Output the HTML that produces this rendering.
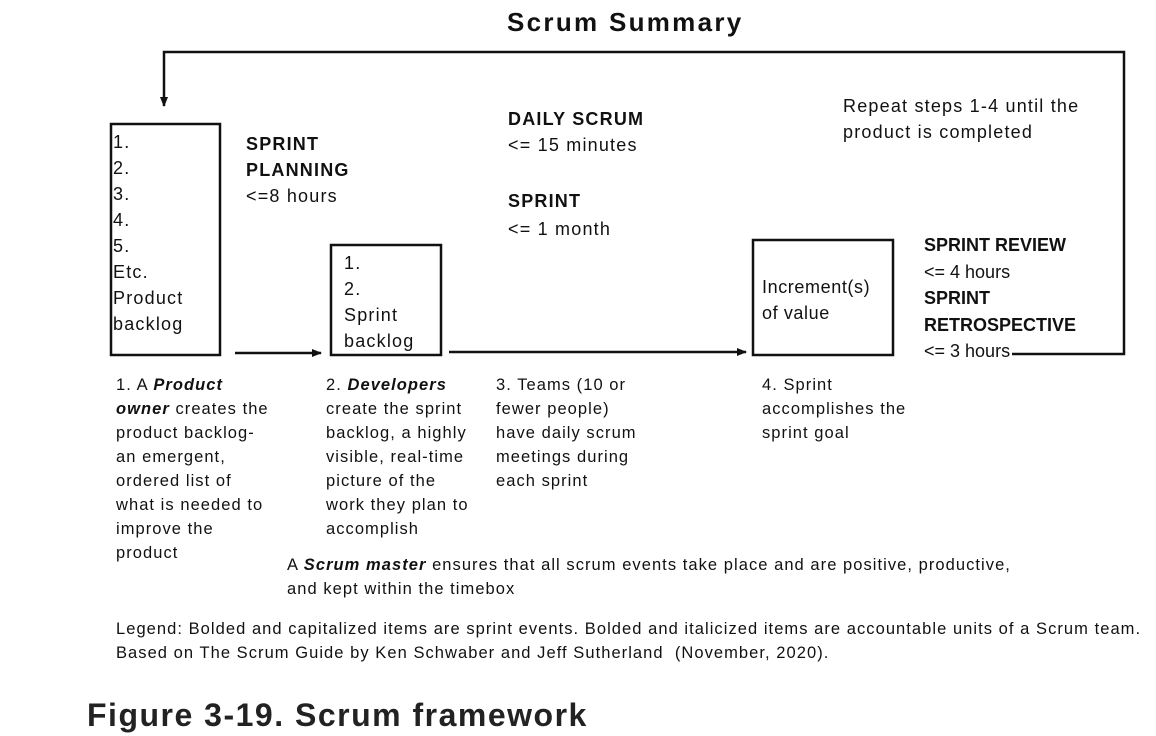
<!DOCTYPE html>
<html><head><meta charset="utf-8"><style>
body{margin:0;width:1156px;height:736px;background:#fff;position:relative;overflow:hidden;font-family:"Liberation Sans",sans-serif;color:#111}
.t{position:absolute;white-space:nowrap;font-size:18px;line-height:26px;letter-spacing:1.2px}
.s{position:absolute;white-space:nowrap;font-size:16.5px;line-height:24px;letter-spacing:1.05px}
b{font-weight:bold}
</style></head><body>
<svg width="1156" height="736" style="position:absolute;left:0;top:0">
<defs><marker id="a" markerWidth="10" markerHeight="10" refX="9" refY="5" orient="auto" markerUnits="userSpaceOnUse"><path d="M0,1 L10,5 L0,9z" fill="#111"/></marker></defs>
<g stroke="#111" stroke-width="2.5" fill="none">
<rect x="111" y="124" width="109" height="231"/>
<rect x="331" y="245" width="110" height="110"/>
<rect x="753" y="240" width="140" height="115"/>
<polyline points="1012,354 1124,354 1124,52 164,52 164,106" marker-end="url(#a)"/>
<line x1="235" y1="353" x2="321" y2="353" marker-end="url(#a)"/>
<line x1="449" y1="352" x2="746" y2="352" marker-end="url(#a)"/>
</g></svg>
<div class="t" style="left:507px;top:6px;font-size:26px;font-weight:bold;line-height:32px;letter-spacing:2.3px">Scrum Summary</div>
<div class="t" style="left:113px;top:129px">1.<br>2.<br>3.<br>4.<br>5.<br>Etc.<br>Product<br>backlog</div>
<div class="t" style="left:246px;top:131px"><b>SPRINT<br>PLANNING</b><br>&lt;=8 hours</div>
<div class="t" style="left:508px;top:106px"><b>DAILY SCRUM</b><br>&lt;= 15 minutes</div>
<div class="t" style="left:508px;top:187px;line-height:28px"><b>SPRINT</b><br>&lt;= 1 month</div>
<div class="t" style="left:843px;top:93px">Repeat steps 1-4 until the<br>product is completed</div>
<div class="t" style="left:344px;top:250px">1.<br>2.<br>Sprint<br>backlog</div>
<div class="t" style="left:762px;top:274px;letter-spacing:0.6px">Increment(s)<br>of value</div>
<div class="t" style="left:924px;top:232px;line-height:26.5px;letter-spacing:0px"><b>SPRINT REVIEW</b><br>&lt;= 4 hours<br><b>SPRINT<br>RETROSPECTIVE</b><br>&lt;= 3 hours</div>
<div class="s" style="left:116px;top:373px">1. A <b><i>Product</i></b><br><b><i>owner</i></b> creates the<br>product backlog-<br>an emergent,<br>ordered list of<br>what is needed to<br>improve the<br>product</div>
<div class="s" style="left:326px;top:373px">2. <b><i>Developers</i></b><br>create the sprint<br>backlog, a highly<br>visible, real-time<br>picture of the<br>work they plan to<br>accomplish</div>
<div class="s" style="left:496px;top:373px">3. Teams (10 or<br>fewer people)<br>have daily scrum<br>meetings during<br>each sprint</div>
<div class="s" style="left:762px;top:373px">4. Sprint<br>accomplishes the<br>sprint goal</div>
<div class="s" style="left:287px;top:553px">A <b><i>Scrum master</i></b> ensures that all scrum events take place and are positive, productive,<br>and kept within the timebox</div>
<div class="s" style="left:116px;top:617px">Legend: Bolded and capitalized items are sprint events. Bolded and italicized items are accountable units of a Scrum team.<br>Based on The Scrum Guide by Ken Schwaber and Jeff Sutherland&nbsp; (November, 2020).</div>
<div class="t" style="left:87px;top:696px;font-size:32px;line-height:38px;font-weight:bold;color:#222;letter-spacing:1.5px">Figure 3-19. Scrum framework</div>
</body></html>
